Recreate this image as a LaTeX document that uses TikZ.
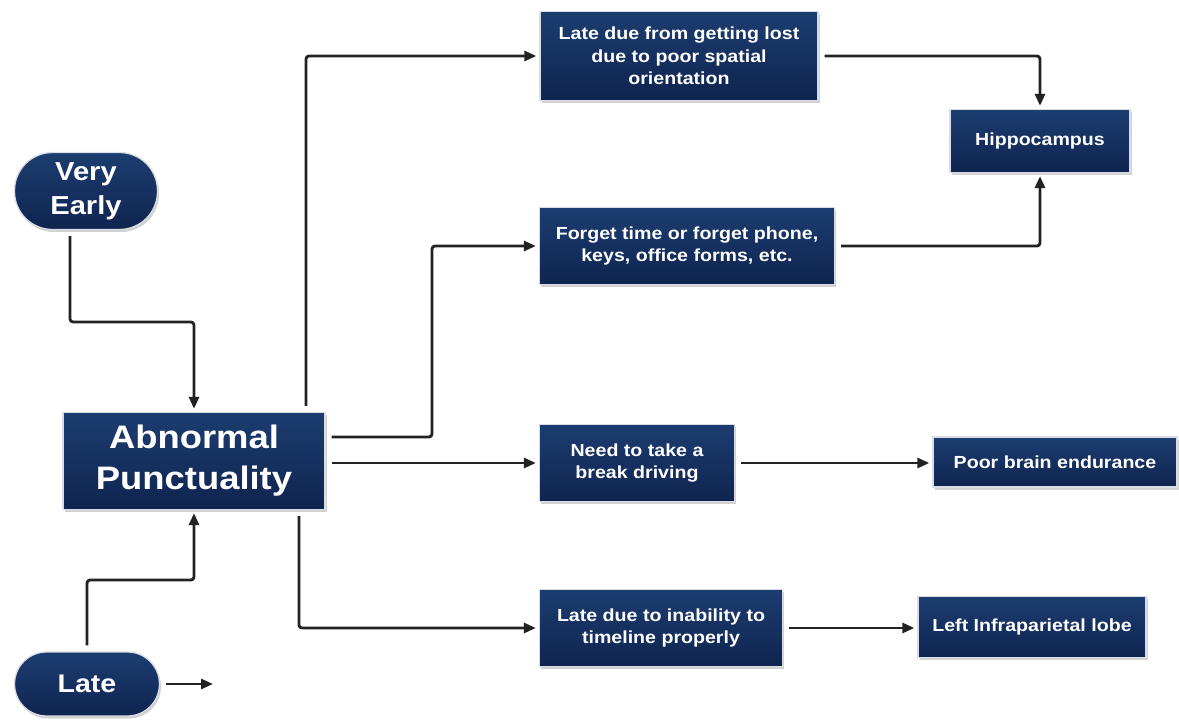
\documentclass[tikz,border=0pt]{standalone}
\usepackage{fontspec}
\setmainfont{Liberation Sans}
\newfontfamily\widesans[FakeStretch=1.12]{Liberation Sans}
\usetikzlibrary{shadows,arrows.meta}
\definecolor{navyT}{HTML}{1C3D70}
\definecolor{navyB}{HTML}{0F2450}
\definecolor{rim}{HTML}{D8DCE4}
\definecolor{lineC}{HTML}{222222}
\begin{document}
\begin{tikzpicture}[x=1pt,y=-1pt,
  box/.style={draw=rim, line width=1.3pt, top color=navyT, bottom color=navyB,
    text=white, align=center, inner sep=0pt,
    font=\widesans\bfseries\fontsize{17.5}{22.5}\selectfont,
    drop shadow={shadow xshift=1.5pt, shadow yshift=-2.5pt, opacity=0.3, fill=black!60}},
  pill/.style={box, rounded corners=#1},
  arr/.style={draw=lineC, line width=2.8pt, rounded corners=3pt,
    shorten <=6pt, shorten >=3pt, -{Triangle[length=12pt,width=10pt]}}]
\useasboundingbox (0,0) rectangle (1179,722);
% nodes
\node[pill=38pt, minimum width=143pt, minimum height=77pt, font=\widesans\bfseries\fontsize{26}{34}\selectfont] (ve) at (86,191) {Very\\Early};
\node[box, minimum width=262pt, minimum height=97pt, font=\widesans\bfseries\fontsize{32.5}{41}\selectfont] (ap) at (194,461) {Abnormal\\Punctuality};
\node[pill=32pt, minimum width=145pt, minimum height=64pt, font=\widesans\bfseries\fontsize{25.5}{30}\selectfont] (la) at (87,684) {Late};
\node[box, minimum width=278pt, minimum height=89pt] (b1) at (679,56) {Late due from getting lost\\due to poor spatial\\orientation};
\node[box, minimum width=180pt, minimum height=63pt] (hip) at (1040,141) {Hippocampus};
\node[box, minimum width=295pt, minimum height=77pt] (b2) at (687,246) {Forget time or forget phone,\\keys, office forms, etc.};
\node[box, minimum width=195pt, minimum height=77pt] (b3) at (637,463) {Need to take a\\break driving};
\node[box, minimum width=244pt, minimum height=50pt] (pbe) at (1055,462) {Poor brain endurance};
\node[box, minimum width=243pt, minimum height=77pt] (b4) at (661,628) {Late due to inability to\\timeline properly};
\node[box, minimum width=228pt, minimum height=61pt] (lil) at (1032,627) {Left Infraparietal lobe};
\coordinate (lend) at (213,684);
% connectors
\draw[arr] (ve.south -| 70,0) -- (70,322) -| (ap.north);
\draw[arr] (la.north -| 87,0) -- (87,580) -| (ap.south);
\draw[arr, shorten >=0pt] (la.east) -- (lend);
\draw[arr] (ap.north -| 306,0) |- (b1.west);
\draw[arr] (ap.east |- 0,437) -- (432,437) |- (b2.west);
\draw[arr] (ap.east |- b3.west) -- (b3.west);
\draw[arr] (ap.south -| 299,0) |- (b4.west);
\draw[arr] (b1.east) -| (hip.north);
\draw[arr] (b2.east) -| (hip.south);
\draw[arr] (b3.east) -- (b3.east -| pbe.west);
\draw[arr] (b4.east) -- (b4.east -| lil.west);
\end{tikzpicture}
\end{document}
